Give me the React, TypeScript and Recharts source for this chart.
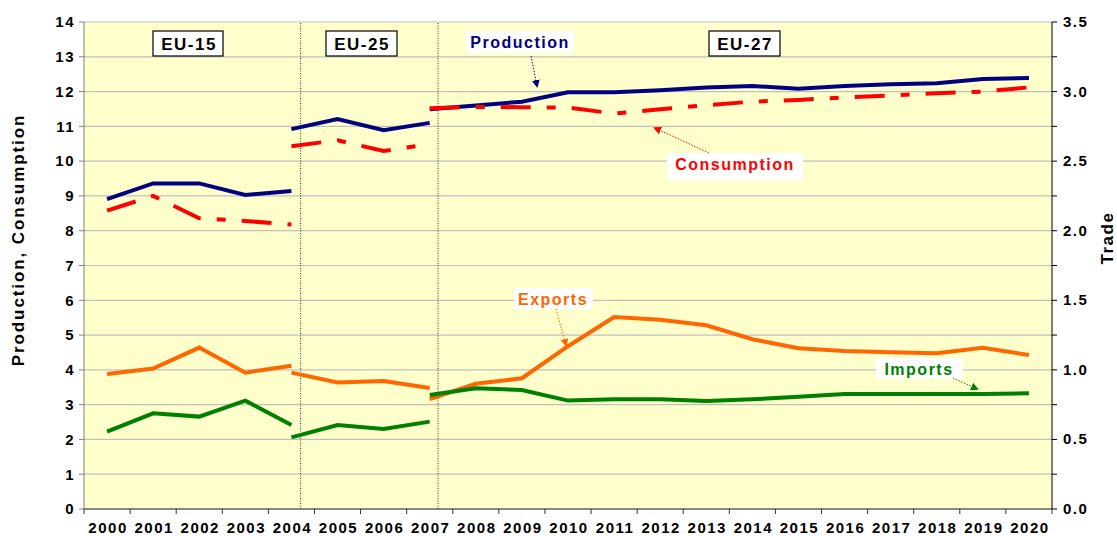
import React from "react";
import {
  ComposedChart,
  Line,
  XAxis,
  YAxis,
  CartesianGrid,
  ReferenceLine,
} from "recharts";

// years on the category axis
const years = [
  "2000", "2001", "2002", "2003", "2004", "2005", "2006", "2007", "2008", "2009", "2010",
  "2011", "2012", "2013", "2014", "2015", "2016", "2017", "2018", "2019", "2020",
];

// first year index of each enlargement period
const START_EU15 = 0;
const START_EU25 = 4;
const START_EU27 = 7;

// left axis (production, consumption)
const prodEU15 = [8.91, 9.36, 9.36, 9.03, 9.14];
const prodEU25 = [10.92, 11.21, 10.89, 11.1];
const prodEU27 = [11.49, 11.6, 11.71, 11.98, 11.98, 12.04, 12.12, 12.16, 12.08, 12.16, 12.21, 12.24, 12.36, 12.39];

const consEU15 = [8.58, 9.0, 8.36, 8.28, 8.18];
const consEU25 = [10.43, 10.6, 10.29, 10.49];
const consEU27 = [11.52, 11.56, 11.55, 11.54, 11.37, 11.49, 11.61, 11.71, 11.76, 11.83, 11.89, 11.95, 12.0, 12.12];

// right axis (trade)
const expEU15 = [0.97, 1.01, 1.16, 0.98, 1.03];
const expEU25 = [0.98, 0.91, 0.92, 0.87];
const expEU27 = [0.79, 0.9, 0.94, 1.17, 1.38, 1.36, 1.32, 1.22, 1.155, 1.136, 1.126, 1.119, 1.159, 1.107];

const impEU15 = [0.556, 0.688, 0.664, 0.779, 0.604];
const impEU25 = [0.515, 0.604, 0.575, 0.628];
const impEU27 = [0.819, 0.867, 0.855, 0.779, 0.788, 0.788, 0.776, 0.788, 0.807, 0.826, 0.826, 0.826, 0.826, 0.831];

const leftTicks = [0, 1, 2, 3, 4, 5, 6, 7, 8, 9, 10, 11, 12, 13, 14];
const rightTicks = [0, 0.25, 0.5, 0.75, 1, 1.25, 1.5, 1.75, 2, 2.25, 2.5, 2.75, 3, 3.25, 3.5];
// EU-15 -> EU-25 and EU-25 -> EU-27 separators, in band units
const periodBreaks = [4.7, 7.68];

const at = (arr: number[], i: number, start: number) =>
  i - start >= 0 && i - start < arr.length ? arr[i - start] : null;

const rows = years.map((year, i) => ({
  year,
  band: i + 0.5,
  prod15: at(prodEU15, i, START_EU15),
  prod25: at(prodEU25, i, START_EU25),
  prod27: at(prodEU27, i, START_EU27),
  cons15: at(consEU15, i, START_EU15),
  cons25: at(consEU25, i, START_EU25),
  cons27: at(consEU27, i, START_EU27),
  exp15: at(expEU15, i, START_EU15),
  exp25: at(expEU25, i, START_EU25),
  exp27: at(expEU27, i, START_EU27),
  imp15: at(impEU15, i, START_EU15),
  imp25: at(impEU25, i, START_EU25),
  imp27: at(impEU27, i, START_EU27),
}));

const NAVY = "#000080";
const RED = "#FF0000";
const ORANGE = "#FF6600";
const GREEN = "#008000";
const FONT = "'Liberation Sans', Arial, sans-serif";

const series = [
  { key: "prod", axis: "l", color: NAVY, dash: undefined },
  { key: "cons", axis: "l", color: RED, dash: "30 16 9 16" },
  { key: "exp", axis: "r", color: ORANGE, dash: undefined },
  { key: "imp", axis: "r", color: GREEN, dash: undefined },
];
const periods = ["15", "25", "27"];

const tickStyle = { fill: "#000", fontSize: 15, fontWeight: 700, fontFamily: FONT, letterSpacing: 1.5 };

// year label in the band centre, tick marks on the band edges
const YearTick = ({ x, y, payload, index }: any) => {
  const half = payload?.offset ?? 23;
  const last = index === years.length - 1;
  return (
    <g>
      <line x1={x - half} y1={y} x2={x - half} y2={y + 5} stroke="#333" />
      {last && <line x1={x + half} y1={y} x2={x + half} y2={y + 5} stroke="#333" />}
      <text x={x + 1} y={y + 18} textAnchor="middle" dominantBaseline="central" style={tickStyle}>
        {payload.value}
      </text>
    </g>
  );
};

const TradeTick = ({ x, y, payload }: any) => {
  const v = payload.value;
  if (Math.abs(v * 2 - Math.round(v * 2)) > 1e-6) return <g />;
  return (
    <text x={x} y={y} dy={5} textAnchor="start" style={tickStyle}>
      {v.toFixed(1)}
    </text>
  );
};

const LeftTitle = () => (
  <text
    x={18}
    y={240}
    transform="rotate(-90 18 240)"
    textAnchor="middle"
    dominantBaseline="central"
    style={{ fontSize: 17, fontWeight: 700, fontFamily: FONT, letterSpacing: 1.9 }}
  >
    Production, Consumption
  </text>
);

const RightTitle = () => (
  <text
    x={1107}
    y={238}
    transform="rotate(-90 1107 238)"
    textAnchor="middle"
    dominantBaseline="central"
    style={{ fontSize: 17, fontWeight: 700, fontFamily: FONT, letterSpacing: 1.5 }}
  >
    Trade
  </text>
);

const labelStyle = { fontSize: 16, fontWeight: 700, fontFamily: FONT, letterSpacing: 1.5 };

function Annotations() {
  return (
    <svg
      width={1117}
      height={536}
      style={{ position: "absolute", left: 0, top: 0, pointerEvents: "none" }}
    >
      <defs>
        {[NAVY, RED, ORANGE, GREEN].map((c) => (
          <marker
            key={c}
            id={`head-${c.slice(1)}`}
            markerWidth="8"
            markerHeight="8"
            refX="6"
            refY="4"
            orient="auto"
            markerUnits="userSpaceOnUse"
          >
            <path d="M0,0 L8,4 L0,8 z" fill={c} />
          </marker>
        ))}
      </defs>

      {/* period boxes */}
      <rect x={153} y={31} width={70} height={25} fill="#fff" stroke="#000" strokeWidth={1.2} />
      <text x={189} y={44} textAnchor="middle" dominantBaseline="central" style={{ ...labelStyle, fontSize: 17 }}>EU-15</text>
      <rect x={326} y={31} width={71} height={25} fill="#fff" stroke="#000" strokeWidth={1.2} />
      <text x={362} y={44} textAnchor="middle" dominantBaseline="central" style={{ ...labelStyle, fontSize: 17 }}>EU-25</text>
      <rect x={709} y={31} width={71} height={25} fill="#fff" stroke="#000" strokeWidth={1.2} />
      <text x={745} y={44} textAnchor="middle" dominantBaseline="central" style={{ ...labelStyle, fontSize: 17 }}>EU-27</text>

      {/* series callouts */}
      <rect x={466} y={31} width={108} height={22} fill="#fff" />
      <text x={520} y={42} textAnchor="middle" dominantBaseline="central" fill={NAVY} style={labelStyle}>Production</text>
      <line x1={531} y1={56} x2={537} y2={86} stroke={NAVY} strokeWidth={1} strokeDasharray="1.5 1.5" markerEnd={`url(#head-000080)`} />

      <rect x={667} y={153} width={136} height={28} fill="#fff" />
      <text x={735} y={164} textAnchor="middle" dominantBaseline="central" fill={RED} style={labelStyle}>Consumption</text>
      <line x1={709} y1={153} x2={655} y2={128} stroke={RED} strokeWidth={1} strokeDasharray="1.5 1.5" markerEnd={`url(#head-FF0000)`} />

      <rect x={514} y={288} width={79} height={21} fill="#fff" />
      <text x={553} y={299} textAnchor="middle" dominantBaseline="central" fill={ORANGE} style={labelStyle}>Exports</text>
      <line x1={556} y1={309} x2={566} y2={345} stroke={ORANGE} strokeWidth={1} strokeDasharray="1.5 1.5" markerEnd={`url(#head-FF6600)`} />

      <rect x={876} y={358} width={87} height={21} fill="#fff" />
      <text x={919} y={369} textAnchor="middle" dominantBaseline="central" fill={GREEN} style={labelStyle}>Imports</text>
      <line x1={953} y1={378} x2={977} y2={389} stroke={GREEN} strokeWidth={1} strokeDasharray="1.5 1.5" markerEnd={`url(#head-008000)`} />
    </svg>
  );
}

export default function App() {
  return (
    <div style={{ position: "absolute", left: 0, top: 0, width: 1117, height: 536, background: "#fff" }}>
      <ComposedChart
        width={1117}
        height={536}
        data={rows}
        margin={{ top: 22, right: 0, bottom: 0, left: 0 }}
      >
        <CartesianGrid
          yAxisId="l"
          vertical={false}
          stroke="#C0C0C0"
          strokeWidth={1.2}
          fill="#FFFFCC"
          fillOpacity={1}
        />
        <XAxis
          dataKey="year"
          scale="band"
          interval={0}
          height={27}
          axisLine={{ stroke: "#333" }}
          tickLine={false}
          tickSize={0}
          tickMargin={0}
          tick={<YearTick />}
        />
        <XAxis
          xAxisId="n"
          dataKey="band"
          type="number"
          domain={[0, 21]}
          allowDataOverflow
          hide
        />
        <YAxis
          yAxisId="l"
          domain={[0, 14]}
          ticks={leftTicks}
          interval={0}
          width={84}
          tickSize={5}
          tickMargin={4}
          axisLine={{ stroke: "#808080" }}
          tickLine={{ stroke: "#808080" }}
          tick={tickStyle}
          label={<LeftTitle />}
        />
        <YAxis
          yAxisId="r"
          orientation="right"
          domain={[0, 3.5]}
          ticks={rightTicks}
          interval={0}
          width={65}
          tickSize={5}
          tickMargin={6}
          axisLine={{ stroke: "#000" }}
          tickLine={{ stroke: "#000" }}
          tick={<TradeTick />}
          label={<RightTitle />}
        />
        {periodBreaks.map((b) => (
          <ReferenceLine
            key={b}
            xAxisId="n"
            yAxisId="l"
            x={b}
            stroke="#333"
            strokeWidth={1}
            strokeDasharray="1 1.5"
          />
        ))}
        {series.flatMap((s) =>
          periods.map((p) => (
            <Line
              key={s.key + p}
              yAxisId={s.axis}
              dataKey={s.key + p}
              type="linear"
              stroke={s.color}
              strokeWidth={4}
              strokeDasharray={s.dash}
              dot={false}
              activeDot={false}
              isAnimationActive={false}
            />
          ))
        )}
      </ComposedChart>
      <Annotations />
    </div>
  );
}
